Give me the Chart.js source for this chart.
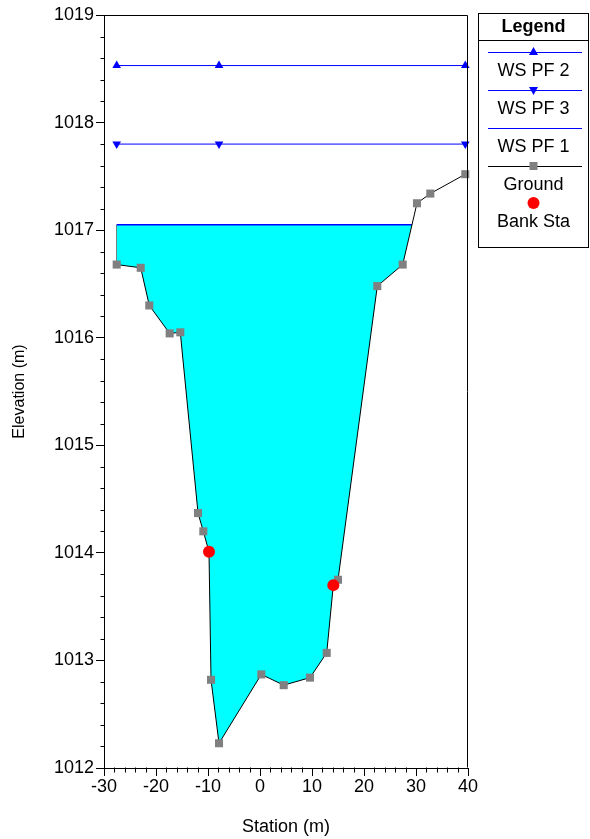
<!DOCTYPE html>
<html>
<head>
<meta charset="utf-8">
<script src="https://cdn.jsdelivr.net/npm/chart.js@4.4.0/dist/chart.umd.min.js"></script>
<style>
  html, body { margin: 0; padding: 0; background: #fff; }
  #wrap { width: 590px; height: 839px; }
</style>
</head>
<body>
<div id="wrap"><canvas id="xsec" width="590" height="839"></canvas></div>
<script>
// cross section data (station m, elevation m)
const groundStations = [-27.56, -22.94, -21.29, -17.37, -15.33, -11.92, -10.90, -9.81, -9.42, -7.88,
  0.25, 4.56, 9.62, 12.83, 14.10, 15.00, 22.56, 27.44, 30.19, 32.75, 39.48];
const groundElevations = [1016.68, 1016.65, 1016.30, 1016.04, 1016.05, 1014.37, 1014.20, 1014.01, 1012.82, 1012.23,
  1012.87, 1012.77, 1012.84, 1013.07, 1013.70, 1013.75, 1016.48, 1016.68, 1017.25, 1017.34, 1017.52];
const bankStations = [-9.81, 14.10];
const bankElevations = [1014.01, 1013.70];
const wsStations = [-27.56, -7.88, 39.48];
const wsPf2 = 1018.53;
const wsPf3 = 1017.80;
const wsPf1 = 1017.05;

const xMin = -30, xMax = 40, xStep = 10, xMinorStep = 2;
const yMin = 1012, yMax = 1019, yStep = 1, yMinorStep = 0.2;

const FONT = '"Liberation Sans", Arial, sans-serif';
const BLUE = '#0000ff';
const GRAY = '#808080';

function toPoints(xs, ys) {
  return xs.map((x, i) => ({ x: x, y: ys[i] }));
}

// WS PF 1 runs from the left end of the section to where it meets the ground on the right
function wsRightEnd(level) {
  for (let i = 1; i < groundStations.length; i++) {
    const y0 = groundElevations[i - 1], y1 = groundElevations[i];
    if (groundStations[i] > 0 && y0 < level && y1 >= level) {
      const t = (level - y0) / (y1 - y0);
      return groundStations[i - 1] + t * (groundStations[i] - groundStations[i - 1]);
    }
  }
  return groundStations[groundStations.length - 1];
}

const groundData = toPoints(groundStations, groundElevations);
const ws1Data = [{ x: groundStations[0], y: wsPf1 }, { x: wsRightEnd(wsPf1), y: wsPf1 }];
const ws2Data = wsStations.map(x => ({ x: x, y: wsPf2 }));
const ws3Data = wsStations.map(x => ({ x: x, y: wsPf3 }));
const bankData = toPoints(bankStations, bankElevations);
const edgeData = [{ x: groundStations[0], y: groundElevations[0] }, { x: groundStations[0], y: wsPf1 }];

const legendItems = [
  { label: 'WS PF 2', line: BLUE, marker: 'up', color: BLUE },
  { label: 'WS PF 3', line: BLUE, marker: 'down', color: BLUE },
  { label: 'WS PF 1', line: BLUE, marker: null, color: BLUE },
  { label: 'Ground', line: '#000', marker: 'square', color: GRAY },
  { label: 'Bank Sta', line: null, marker: 'circle', color: '#ff0000' }
];

function drawMarker(ctx, kind, x, y, color) {
  ctx.fillStyle = color;
  ctx.beginPath();
  if (kind === 'up') {
    ctx.moveTo(x, y - 5); ctx.lineTo(x + 4.5, y + 3); ctx.lineTo(x - 4.5, y + 3);
  } else if (kind === 'down') {
    ctx.moveTo(x, y + 5); ctx.lineTo(x + 4.5, y - 3); ctx.lineTo(x - 4.5, y - 3);
  } else if (kind === 'square') {
    ctx.rect(x - 4, y - 4, 8, 8);
  } else if (kind === 'circle') {
    ctx.arc(x, y, 6, 0, Math.PI * 2);
  }
  ctx.closePath();
  ctx.fill();
}

const framePlugin = {
  id: 'frame',
  afterDraw(chart) {
    const ctx = chart.ctx;
    const a = chart.chartArea;
    const xs = chart.scales.x, ys = chart.scales.y;
    ctx.save();
    ctx.strokeStyle = '#000';
    ctx.lineWidth = 1;
    ctx.beginPath();
    const l = Math.round(a.left) + 0.5, r = Math.round(a.right) - 0.5;
    const t = Math.round(a.top) + 0.5, b = Math.round(a.bottom) - 0.5;
    ctx.moveTo(l, t); ctx.lineTo(r, t); ctx.lineTo(r, b);
    // minor ticks
    for (let i = 1; i < Math.round((yMax - yMin) / yMinorStep); i++) {
      if (i % Math.round(yStep / yMinorStep) === 0) continue;
      const py = Math.round(ys.getPixelForValue(yMin + i * yMinorStep)) + 0.5;
      ctx.moveTo(l - 4, py); ctx.lineTo(l, py);
    }
    for (let i = 1; i < Math.round((xMax - xMin) / xMinorStep); i++) {
      if (i % Math.round(xStep / xMinorStep) === 0) continue;
      const px = Math.round(xs.getPixelForValue(xMin + i * xMinorStep)) + 0.5;
      ctx.moveTo(px, b); ctx.lineTo(px, b + 5);
    }
    ctx.stroke();
    ctx.restore();
    drawLegend(ctx);
  }
};

function drawLegend(ctx) {
  const left = 478.5, right = 588.5, top = 13.5, bottom = 247.5;
  const cx = (left + right) / 2;
  ctx.save();
  ctx.strokeStyle = '#000';
  ctx.lineWidth = 1;
  ctx.strokeRect(left, top, right - left, bottom - top);
  ctx.beginPath();
  ctx.moveTo(left, 40.5); ctx.lineTo(right, 40.5);
  ctx.stroke();
  ctx.fillStyle = '#000';
  ctx.textAlign = 'center';
  ctx.textBaseline = 'middle';
  ctx.font = 'bold 18px ' + FONT;
  ctx.fillText('Legend', cx, 27);
  ctx.font = '18px ' + FONT;
  let y = 52;
  legendItems.forEach(item => {
    if (item.line) {
      ctx.strokeStyle = item.line;
      ctx.beginPath();
      ctx.moveTo(488, y + 0.5); ctx.lineTo(582, y + 0.5);
      ctx.stroke();
    } else {
      y -= 1;
    }
    if (item.marker) drawMarker(ctx, item.marker, cx, y, item.color);
    ctx.fillStyle = '#000';
    ctx.fillText(item.label, cx, y + 19);
    y += 38;
  });
  ctx.restore();
}

new Chart(document.getElementById('xsec'), {
  type: 'line',
  data: {
    datasets: [
      {
        label: 'Bank Sta', data: bankData, showLine: false, clip: false,
        pointStyle: 'circle', pointRadius: 6, pointBackgroundColor: '#ff0000', pointBorderWidth: 0
      },
      {
        label: 'Ground', data: groundData, borderColor: '#000', borderWidth: 1, clip: false,
        pointStyle: 'rect', pointRadius: 5.7, pointBackgroundColor: GRAY, pointBorderColor: GRAY, pointBorderWidth: 0
      },
      {
        label: 'WS PF 2', data: ws2Data, borderColor: BLUE, borderWidth: 1, clip: false,
        pointStyle: 'triangle', pointRadius: 5, pointBackgroundColor: BLUE, pointBorderWidth: 0
      },
      {
        label: 'WS PF 3', data: ws3Data, borderColor: BLUE, borderWidth: 1, clip: false,
        pointStyle: 'triangle', pointRotation: 180, pointRadius: 5, pointBackgroundColor: BLUE, pointBorderWidth: 0
      },
      {
        label: 'WS PF 1', data: ws1Data, borderColor: BLUE, borderWidth: 1.5, pointRadius: 0,
        backgroundColor: '#00ffff', fill: { target: 1, above: '#00ffff', below: '#00ffff' }
      },
      {
        label: 'edge', data: edgeData, borderColor: '#555', borderWidth: 1, pointRadius: 0
      }
    ]
  },
  options: {
    responsive: false,
    animation: false,
    devicePixelRatio: 1,
    layout: { padding: { left: 0, top: 15, right: 122, bottom: 0 } },
    plugins: {
      legend: { display: false },
      tooltip: { enabled: false }
    },
    scales: {
      x: {
        type: 'linear', min: xMin, max: xMax,
        afterFit(scale) { scale.height = 71; },
        ticks: { stepSize: xStep, color: '#000', padding: 0, font: { family: FONT, size: 18 }, maxRotation: 0,
          callback: v => String(v) },
        grid: { drawOnChartArea: false, tickLength: 8, color: '#000' },
        border: { color: '#000' },
        title: { display: true, text: 'Station (m)', color: '#000', font: { family: FONT, size: 18 }, padding: { top: 0, bottom: 1 } }
      },
      y: {
        type: 'linear', min: yMin, max: yMax,
        afterFit(scale) { scale.width = 104; },
        ticks: { stepSize: yStep, color: '#000', padding: 2, font: { family: FONT, size: 18 },
          callback: v => String(v) },
        grid: { drawOnChartArea: false, tickLength: 8, color: '#000' },
        border: { color: '#000' },
        title: { display: true, text: 'Elevation (m)', color: '#000', font: { family: FONT, size: 16 }, padding: { top: 10, bottom: 0 } }
      }
    }
  },
  plugins: [framePlugin]
});
</script>
</body>
</html>
